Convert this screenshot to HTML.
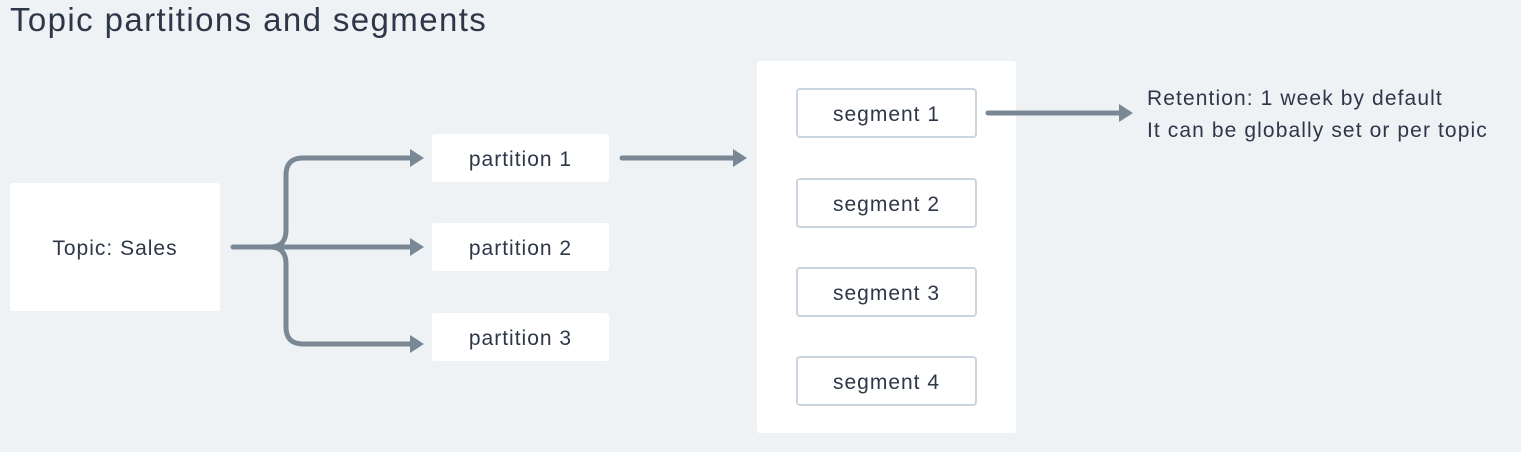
<!DOCTYPE html>
<html><head><style>
body{margin:0;width:1521px;height:452px;background:#eff2f5;font-family:"Liberation Sans",sans-serif;color:#2d3748;position:relative;overflow:hidden}
.t{position:absolute;left:10px;top:1px;font-size:33px;letter-spacing:1.4px;color:#2d3748}
.b{position:absolute;background:#fff;border-radius:3px;display:flex;align-items:center;justify-content:center;font-size:21px;letter-spacing:1px;padding-top:3px;box-sizing:border-box}
.s{border:2px solid #cbd5df;border-radius:4px}
.r{position:absolute;left:1147px;top:83px;font-size:21px;letter-spacing:1.1px;line-height:32px}
</style></head><body>
<div class="t">Topic partitions and segments</div>
<div class="b" style="left:10px;top:183px;width:210px;height:128px">Topic: Sales</div>
<div class="b" style="left:432px;top:134px;width:177px;height:48px">partition 1</div>
<div class="b" style="left:432px;top:223px;width:177px;height:48px">partition 2</div>
<div class="b" style="left:432px;top:313px;width:177px;height:48px">partition 3</div>
<div class="b" style="left:757px;top:61px;width:259px;height:372px"></div>
<div class="b s" style="left:796px;top:88px;width:181px;height:50px">segment 1</div>
<div class="b s" style="left:796px;top:178px;width:181px;height:50px">segment 2</div>
<div class="b s" style="left:796px;top:267px;width:181px;height:50px">segment 3</div>
<div class="b s" style="left:796px;top:356px;width:181px;height:50px">segment 4</div>
<div class="r">Retention: 1 week by default<br>It can be globally set or per topic</div>
<svg width="1521" height="452" style="position:absolute;left:0;top:0">
<g fill="none" stroke="#7a8896" stroke-width="5" stroke-linecap="round">
<path d="M233 247H412"/>
<path d="M270 247Q286 247 286 230V175Q286 158 303 158H412"/>
<path d="M270 247Q286 247 286 264V327Q286 344 303 344H412"/>
<path d="M622 158H735"/>
<path d="M988 113H1120"/>
</g>
<g fill="#7a8896">
<polygon points="410,149 424,158 410,167"/>
<polygon points="410,238 424,247 410,256"/>
<polygon points="410,335 424,344 410,353"/>
<polygon points="733,149 747,158 733,167"/>
<polygon points="1119,104 1133,113 1119,122"/>
</g>
</svg>
</body></html>
